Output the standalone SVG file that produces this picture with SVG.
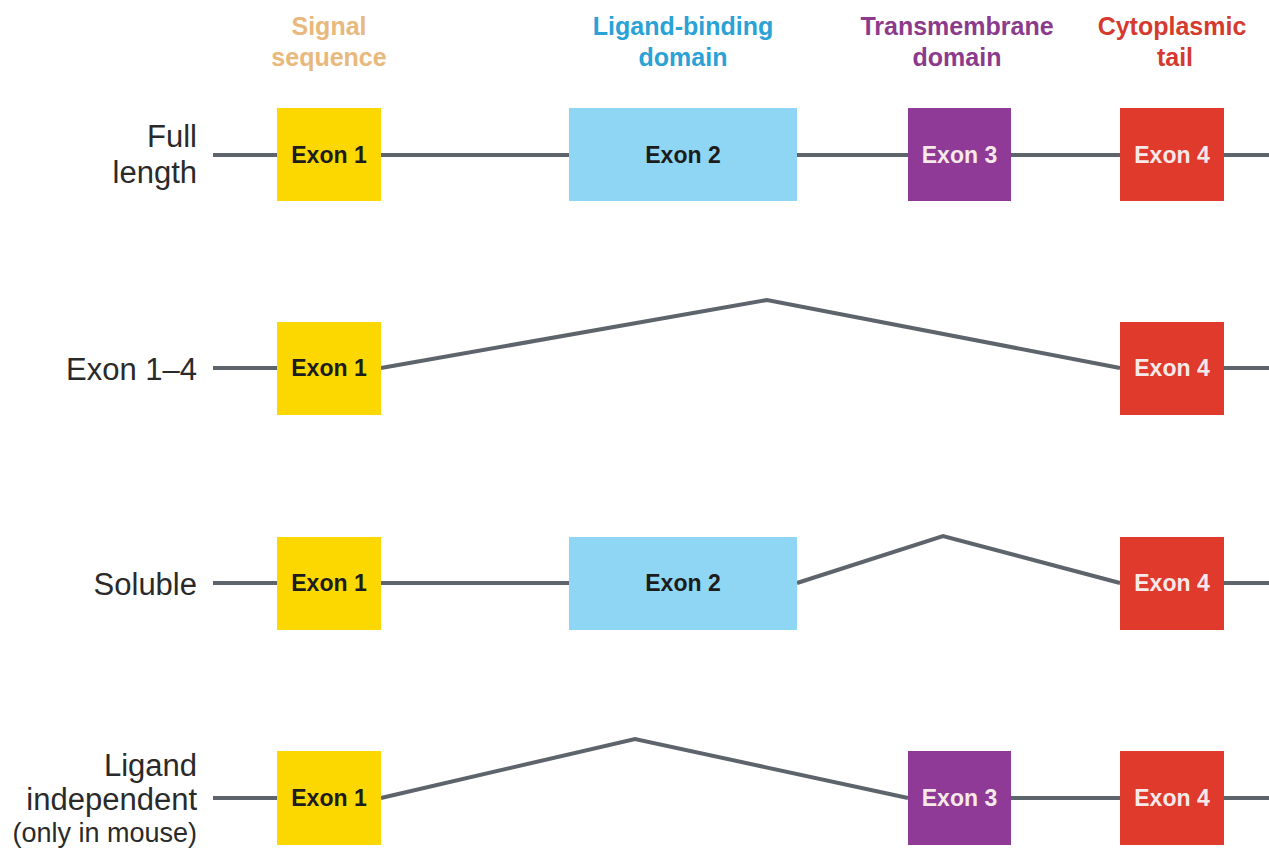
<svg xmlns="http://www.w3.org/2000/svg" width="1269" height="854" viewBox="0 0 1269 854">
<style>
.bg{fill:#ffffff}
.ln{fill:none;stroke:#5e646c;stroke-width:4;stroke-linejoin:miter}
.hd{font-family:"Liberation Sans",Arial,sans-serif;font-weight:bold;font-size:25px;text-anchor:middle}
.rl{font-family:"Liberation Sans",Arial,sans-serif;font-size:31px;fill:#2a2a2a;text-anchor:end}
.sm{font-size:27px}
.ex{font-family:"Liberation Sans",Arial,sans-serif;font-weight:bold;font-size:23px;text-anchor:middle}
.e1{fill:#fcd700}.e2{fill:#8fd6f4}.e3{fill:#8e3a96}.e4{fill:#e03a2d}
.dk{fill:#1c1c1c}.lt{fill:#f7e9e9}
</style>
<rect class="bg" x="0" y="0" width="1269" height="854"/>
<g id="headers">
<text class="hd" fill="#e9b87c" x="329" y="35">Signal</text>
<text class="hd" fill="#e9b87c" x="329" y="66">sequence</text>
<text class="hd" fill="#2aa2d6" x="683" y="35">Ligand-binding</text>
<text class="hd" fill="#2aa2d6" x="683" y="66">domain</text>
<text class="hd" fill="#8b3a8c" x="957" y="35">Transmembrane</text>
<text class="hd" fill="#8b3a8c" x="957" y="66">domain</text>
<text class="hd" fill="#d53a2f" x="1172" y="35">Cytoplasmic</text>
<text class="hd" fill="#d53a2f" x="1175" y="66">tail</text>
</g>
<g id="labels">
<text class="rl" x="197" y="147">Full</text>
<text class="rl" x="197" y="183">length</text>
<text class="rl" x="197" y="380">Exon 1–4</text>
<text class="rl" x="197" y="595">Soluble</text>
<text class="rl" x="197" y="776">Ligand</text>
<text class="rl" x="197" y="810">independent</text>
<text class="rl sm" x="197" y="842">(only in mouse)</text>
</g>
<g id="connectors">
<polyline class="ln" points="213,155 1269,155"/>
<polyline class="ln" points="213,368 277,368"/>
<polyline class="ln" points="381,368 767,300 1120,368"/>
<polyline class="ln" points="1224,368 1269,368"/>
<polyline class="ln" points="213,583 569,583"/>
<polyline class="ln" points="797,583 943,536 1120,583"/>
<polyline class="ln" points="1224,583 1269,583"/>
<polyline class="ln" points="213,798 277,798"/>
<polyline class="ln" points="381,798 635,739 908,798"/>
<polyline class="ln" points="1011,798 1269,798"/>
</g>
<g id="row1">
<g id="r1-exon1"><rect class="e1" x="277" y="108" width="104" height="93"/><text class="ex dk" x="329" y="163">Exon 1</text></g>
<g id="r1-exon2"><rect class="e2" x="569" y="108" width="228" height="93"/><text class="ex dk" x="683" y="163">Exon 2</text></g>
<g id="r1-exon3"><rect class="e3" x="908" y="108" width="103" height="93"/><text class="ex lt" x="959.5" y="163">Exon 3</text></g>
<g id="r1-exon4"><rect class="e4" x="1120" y="108" width="104" height="93"/><text class="ex lt" x="1172" y="163">Exon 4</text></g>
</g>
<g id="row2">
<g id="r2-exon1"><rect class="e1" x="277" y="322" width="104" height="93"/><text class="ex dk" x="329" y="376">Exon 1</text></g>
<g id="r2-exon4"><rect class="e4" x="1120" y="322" width="104" height="93"/><text class="ex lt" x="1172" y="376">Exon 4</text></g>
</g>
<g id="row3">
<g id="r3-exon1"><rect class="e1" x="277" y="537" width="104" height="93"/><text class="ex dk" x="329" y="591">Exon 1</text></g>
<g id="r3-exon2"><rect class="e2" x="569" y="537" width="228" height="93"/><text class="ex dk" x="683" y="591">Exon 2</text></g>
<g id="r3-exon4"><rect class="e4" x="1120" y="537" width="104" height="93"/><text class="ex lt" x="1172" y="591">Exon 4</text></g>
</g>
<g id="row4">
<g id="r4-exon1"><rect class="e1" x="277" y="751" width="104" height="94"/><text class="ex dk" x="329" y="806">Exon 1</text></g>
<g id="r4-exon3"><rect class="e3" x="908" y="751" width="103" height="94"/><text class="ex lt" x="959.5" y="806">Exon 3</text></g>
<g id="r4-exon4"><rect class="e4" x="1120" y="751" width="104" height="94"/><text class="ex lt" x="1172" y="806">Exon 4</text></g>
</g>
</svg>
